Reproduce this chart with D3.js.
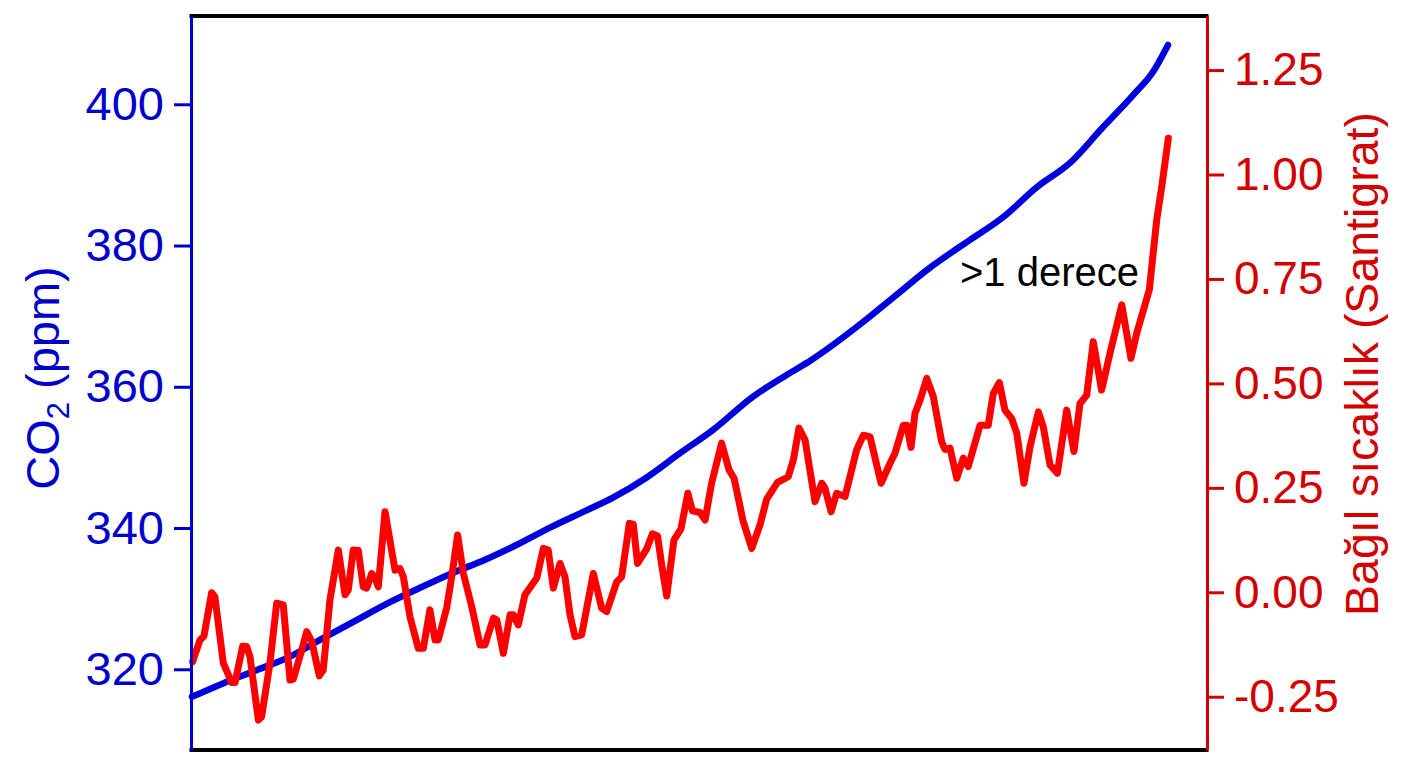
<!DOCTYPE html>
<html>
<head>
<meta charset="utf-8">
<script src="https://cdn.jsdelivr.net/npm/d3@7"></script>
<style>
  html, body { margin: 0; padding: 0; background: #ffffff; }
  svg { display: block; }
  text { font-family: "Liberation Sans", Arial, Helvetica, sans-serif; }
</style>
</head>
<body>
<svg id="chart" width="1408" height="768"></svg>
<script>
// ---------------- DATA ----------------
const co2Years = [1958.06, 1959.95, 1962.03, 1964.04, 1966.06, 1968.13, 1970.14, 1971.85, 1973.93, 1975.94,
  1977.95, 1980.03, 1982.04, 1983.75, 1985.83, 1987.84, 1989.86, 1992.30, 1994.37, 1995.86,
  1999.03, 2001.04, 2003.06, 2004.46, 2005.54, 2007.55, 2009.63, 2011.64, 2013.59, 2015.49,
  2016.71, 2017.62];
const co2Values = [316.1, 318.0, 319.9, 321.8, 324.4, 327.0, 329.5, 331.4, 333.6, 335.5,
  337.7, 340.2, 342.4, 344.3, 347.2, 350.6, 353.9, 358.6, 361.7, 363.8,
  369.2, 373.0, 376.8, 379.1, 380.8, 384.0, 388.3, 391.7, 396.6, 401.3,
  404.6, 408.4];

const tempYears = [1958.10, 1958.55, 1958.79, 1959.26, 1959.46, 1959.97, 1960.48, 1960.69, 1961.15, 1961.40,
  1961.60, 1962.11, 1962.31, 1962.82, 1963.23, 1963.63, 1964.04, 1964.24, 1964.76, 1965.06,
  1965.37, 1965.83, 1966.07, 1966.48, 1966.99, 1967.40, 1967.60, 1967.90, 1968.21, 1968.51,
  1968.72, 1969.03, 1969.23, 1969.43, 1969.84, 1970.45, 1970.75, 1970.96, 1971.36, 1971.87,
  1972.18, 1972.58, 1972.89, 1973.09, 1973.60, 1973.91, 1974.27, 1974.62, 1975.13, 1975.64,
  1975.94, 1976.45, 1976.66, 1977.06, 1977.47, 1977.67, 1977.97, 1978.38, 1978.79, 1979.10,
  1979.50, 1979.80, 1980.11, 1980.52, 1980.82, 1981.13, 1981.43, 1981.84, 1982.55, 1983.06,
  1983.37, 1983.98, 1984.28, 1984.75, 1984.99, 1985.25, 1985.81, 1986.16, 1986.47, 1986.74,
  1987.03, 1987.47, 1987.90, 1988.32, 1988.60, 1989.06, 1989.37, 1989.77, 1990.38, 1990.83,
  1991.14, 1991.70, 1992.22, 1992.72, 1993.13, 1993.79, 1994.14, 1994.45, 1994.76, 1995.10,
  1995.47, 1996.08, 1996.49, 1996.69, 1997.06, 1997.40, 1997.91, 1998.62, 1999.03, 1999.44,
  2000.11, 2000.66, 2000.96, 2001.47, 2001.68, 2001.94, 2002.18, 2002.49, 2002.90, 2003.30,
  2003.81, 2004.01, 2004.32, 2004.73, 2005.13, 2005.43, 2006.15, 2006.65, 2006.96, 2007.33,
  2007.67, 2008.08, 2008.39, 2008.83, 2009.20, 2009.71, 2010.01, 2010.42, 2010.87, 2011.44,
  2011.88, 2012.25, 2012.66, 2013.06, 2013.57, 2014.08, 2014.80, 2015.36, 2015.71, 2016.48,
  2016.93, 2017.24, 2017.64];
const tempValues = [-0.166, -0.114, -0.105, -0.001, -0.011, -0.169, -0.216, -0.216, -0.129, -0.130,
  -0.154, -0.306, -0.298, -0.169, -0.026, -0.030, -0.210, -0.208, -0.138, -0.094,
  -0.118, -0.200, -0.186, -0.018, 0.101, -0.006, 0.006, 0.101, 0.100, 0.013,
  0.010, 0.045, 0.034, 0.013, 0.193, 0.053, 0.057, 0.037, -0.058, -0.134,
  -0.134, -0.042, -0.114, -0.114, -0.038, 0.037, 0.137, 0.045, -0.034, -0.126,
  -0.126, -0.062, -0.066, -0.146, -0.054, -0.054, -0.078, -0.006, 0.017, 0.034,
  0.105, 0.101, 0.010, 0.069, 0.037, -0.054, -0.106, -0.102, 0.045, -0.038,
  -0.046, 0.025, 0.037, 0.165, 0.163, 0.069, 0.104, 0.140, 0.135, 0.061,
  -0.009, 0.125, 0.152, 0.237, 0.195, 0.191, 0.173, 0.261, 0.357, 0.293,
  0.273, 0.169, 0.105, 0.161, 0.223, 0.263, 0.270, 0.277, 0.317, 0.393,
  0.365, 0.217, 0.261, 0.249, 0.193, 0.237, 0.229, 0.341, 0.376, 0.372,
  0.261, 0.309, 0.333, 0.400, 0.400, 0.347, 0.428, 0.460, 0.512, 0.468,
  0.360, 0.342, 0.345, 0.273, 0.321, 0.301, 0.400, 0.400, 0.476, 0.502,
  0.436, 0.416, 0.381, 0.261, 0.348, 0.432, 0.396, 0.305, 0.285, 0.436,
  0.337, 0.452, 0.472, 0.600, 0.484, 0.572, 0.688, 0.560, 0.620, 0.724,
  0.891, 0.971, 1.087];

const co2Ticks = [320, 340, 360, 380, 400];
const tempTicks = [-0.25, 0, 0.25, 0.5, 0.75, 1.0, 1.25];
const tempTickLabels = ["-0.25", "0.00", "0.25", "0.50", "0.75", "1.00", "1.25"];
const leftTitle = "CO";
const leftTitleSub = "2";
const leftTitleRest = " (ppm)";
const rightTitle = "Bağıl sıcaklık (Santigrat)";
const annotation = ">1 derece";

// ---------------- LAYOUT ----------------
const W = 1408, H = 768;
const L = 191, R = 1207, T = 16, B = 750;
const BLUE = "#0000cc", BLUE_LINE = "#0000dd", RED = "#d40000", RED_LINE = "#ff0000";
const FONT = '"Liberation Sans", Arial, Helvetica, sans-serif';

const svg = d3.select("#chart");
svg.append("rect").attr("width", W).attr("height", H).attr("fill", "#fff");

const x = d3.scaleLinear().domain([1958, 2020]).range([L, R]);
const yL = d3.scaleLinear().domain([308.57, 412.5]).range([B, T]);
const yR = d3.scaleLinear().domain([-0.3775, 1.3794]).range([B, T]);

// lines
const co2Data = co2Years.map((yr, i) => ({ x: yr, y: co2Values[i] }));
const tempData = tempYears.map((yr, i) => ({ x: yr, y: tempValues[i] }));

svg.append("path")
  .datum(co2Data)
  .attr("fill", "none")
  .attr("stroke", BLUE_LINE)
  .attr("stroke-width", 6.5)
  .attr("stroke-linejoin", "round")
  .attr("stroke-linecap", "round")
  .attr("d", d3.line().x(d => x(d.x)).y(d => yL(d.y)).curve(d3.curveMonotoneX));

svg.append("path")
  .datum(tempData)
  .attr("fill", "none")
  .attr("stroke", RED_LINE)
  .attr("stroke-width", 7)
  .attr("stroke-linejoin", "round")
  .attr("stroke-linecap", "round")
  .attr("d", d3.line().x(d => x(d.x)).y(d => yR(d.y)));

// frame: top and bottom black
svg.append("line").attr("x1", L - 1.5).attr("x2", R + 1.5).attr("y1", T).attr("y2", T)
  .attr("stroke", "#000").attr("stroke-width", 4);
svg.append("line").attr("x1", L - 1.5).attr("x2", R + 1.5).attr("y1", B).attr("y2", B)
  .attr("stroke", "#000").attr("stroke-width", 4);

// left axis
const gL = svg.append("g").attr("transform", `translate(${L},0)`)
  .call(d3.axisLeft(yL).tickValues(co2Ticks).tickSize(17).tickSizeOuter(0).tickPadding(10));
gL.select(".domain").attr("stroke", BLUE).attr("stroke-width", 3);
gL.selectAll(".tick line").attr("stroke", BLUE).attr("stroke-width", 3);
gL.selectAll(".tick text").attr("fill", BLUE).attr("font-size", 47).attr("font-family", FONT);

// right axis
const gR = svg.append("g").attr("transform", `translate(${R},0)`)
  .call(d3.axisRight(yR).tickValues(tempTicks).tickSize(17).tickSizeOuter(0).tickPadding(10)
    .tickFormat((d, i) => tempTickLabels[i]));
gR.select(".domain").attr("stroke", RED).attr("stroke-width", 3);
gR.selectAll(".tick line").attr("stroke", RED).attr("stroke-width", 3);
gR.selectAll(".tick text").attr("fill", RED).attr("font-size", 46).attr("font-family", FONT);

// titles
const lt = svg.append("text")
  .attr("transform", `translate(59,378) rotate(-90)`)
  .attr("text-anchor", "middle")
  .attr("fill", BLUE).attr("font-size", 47).attr("font-family", FONT);
lt.append("tspan").text(leftTitle);
lt.append("tspan").attr("font-size", 31).attr("dy", 10).text(leftTitleSub);
lt.append("tspan").attr("dy", -10).text(leftTitleRest);

svg.append("text")
  .attr("transform", `translate(1378,364) rotate(-90)`)
  .attr("text-anchor", "middle")
  .attr("fill", RED).attr("font-size", 46.5).attr("font-family", FONT)
  .text(rightTitle);

// annotation
svg.append("text")
  .attr("x", 960).attr("y", 286)
  .attr("fill", "#000").attr("font-size", 40).attr("font-family", FONT)
  .text(annotation);
</script>
</body>
</html>
